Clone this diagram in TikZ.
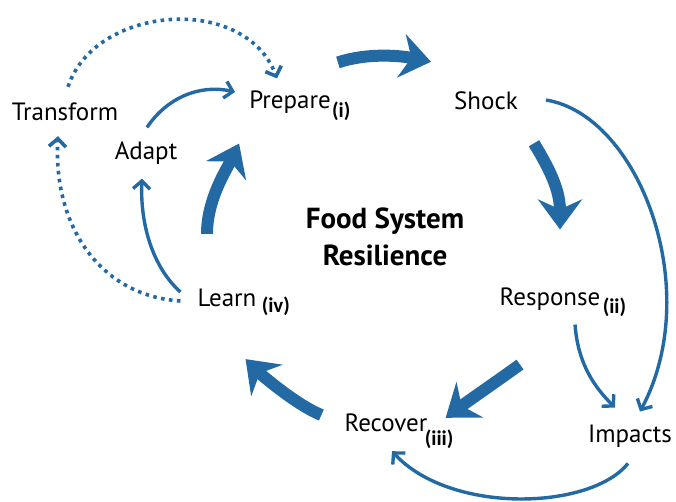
\documentclass[tikz,border=0pt]{standalone}
\usepackage{fontspec}
\setmainfont{PT Sans}
\newfontfamily\subfont{Carlito}
\usetikzlibrary{arrows.meta,positioning,calc}
\definecolor{cycleblue}{HTML}{236AA5}
\tikzset{
  stage/.style={
    font=\fontsize{25}{28}\selectfont,
    inner sep=0pt
  },
  title/.style={
    font=\bfseries\fontsize{29}{37}\selectfont,
    align=center,
    inner sep=0pt
  },
  sublabel/.style={
    font=\subfont\bfseries\fontsize{21}{22}\selectfont,
    inner sep=0pt
  },
  bigarrow/.style={
    -{Stealth[length=30pt,width=44pt,inset=10pt]},
    line width=12pt,
    draw=cycleblue
  },
  thinarrow/.style={
    -{Straight Barb[length=8pt,width=17pt]},
    line width=3.4pt,
    draw=cycleblue
  },
  dotarrow/.style={
    thinarrow,
    line width=3.6pt,
    dash pattern=on 3.6pt off 4.4pt
  }
}
\begin{document}
\begin{tikzpicture}[x=1pt,y=-1pt]
    \useasboundingbox (0,0) rectangle (676,501);
    % stages of the cycle
    \node[stage] (transform) at (65,112) {Transform};
    \node[stage] (adapt) at (146,153) {Adapt};
    \node[stage] (prepare) at (290,102) {Prepare};
    \node[stage] (shock) at (486,101) {Shock};
    \node[stage] (response) at (550,299) {Response};
    \node[stage] (impacts) at (630,436) {Impacts};
    \node[stage] (recover) at (386,423) {Recover};
    \node[stage] (learn) at (227,298) {Learn};
    \node[title] (centre) at (385,237) {Food System\\Resilience};
    \node[sublabel, right=1pt of prepare, yshift=-9pt] (prepare-i) {(i)};
    \node[sublabel, right=2pt of response, yshift=-8pt] (response-ii) {(ii)};
    \node[sublabel, right=-3pt of recover, yshift=-16pt] (recover-iii) {(iii)};
    \node[sublabel, right=5pt of learn, yshift=-8pt] (learn-iv) {(iv)};
    % main loop
    \draw[bigarrow] ($(prepare.north east)+(7,-28)$) .. controls +(30,-10) and +(-30,-6) .. ($(shock.north west)+(-23,-30)$);
    \draw[bigarrow] ($(shock.south east)+(16,33)$) .. controls +(15,25) and +(0,-40) .. ($(response.north)+(10,-58)$);
    \draw[bigarrow] ($(response.south)+(-30,54)$) .. controls +(-25,18) and +(20,-15) .. ($(recover.north east)+(18,4)$);
    \draw[bigarrow] ($(recover.west)+(-23,-8)$) .. controls +(-25,-10) and +(15,15) .. ($(learn.south east)+(-11,52)$);
    \draw[bigarrow] ($(learn.north)+(-20,-55)$) .. controls +(0,-35) and +(-12,25) .. ($(prepare.south west)+(-10,30)$);
    % side paths
    \draw[thinarrow] ($(adapt.north)+(1,-14)$) .. controls +(20,-30) and +(-35,-8) .. ($(prepare.west)+(-14,-10)$);
    \draw[thinarrow] ($(learn.west)+(-17,-6)$) .. controls +(-28,-25) and +(-2,45) .. ($(adapt.south)+(-4,14)$);
    \draw[thinarrow] ($(shock.east)+(28,-1)$) .. controls +(93,15) and +(65,-122) .. ($(impacts.north)+(10,-13)$);
    \draw[thinarrow] ($(response.south)+(25,14)$) .. controls +(3,40) and +(-20,-20) .. ($(impacts.north)+(-15,-17)$);
    \draw[thinarrow] ($(impacts.south)+(-2,16)$) .. controls +(-38,47) and +(58,63) .. ($(recover.south)+(6,19)$);
    \draw[dotarrow] ($(learn.west)+(-17,3)$) .. controls +(-80,-5) and +(-5,90) .. ($(transform.south)+(-7,15)$);
    \draw[dotarrow] ($(transform.north)+(3,-16)$) .. controls +(27,-82) and +(-32,-85) .. ($(prepare.north)+(-13,-12)$);
\end{tikzpicture}
\end{document}
